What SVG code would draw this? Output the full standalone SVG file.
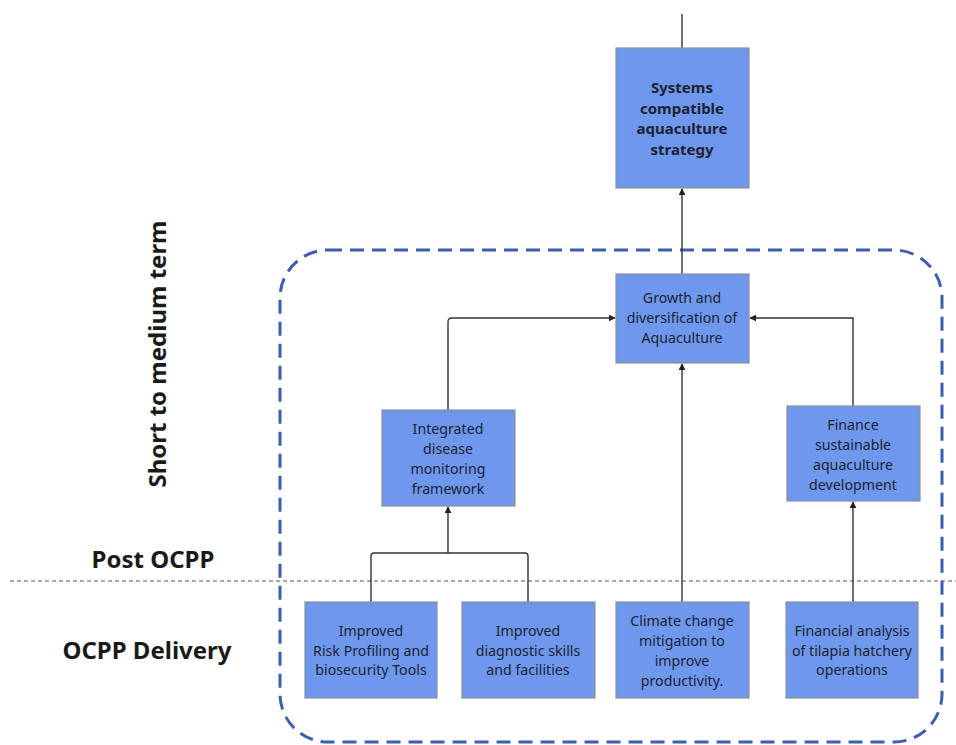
<svg xmlns="http://www.w3.org/2000/svg" width="956" height="745" viewBox="0 0 956 745">
  <defs>
    <marker id="arrow" viewBox="0 0 10 10" refX="9" refY="5" markerWidth="7" markerHeight="7" markerUnits="userSpaceOnUse" orient="auto">
      <path d="M0,0 L10,5 L0,10 z" fill="#222"/>
    </marker>
    <style>
      .box { fill: #6d98ee; stroke: #8c8f99; stroke-width: 1.2; }
      .txt { font-family: "Noto Sans", "Open Sans", sans-serif; font-size: 14.2px; fill: #1e2230; text-anchor: middle; }
      .bold { font-weight: bold; font-size: 15px; }
      .side { font-family: "Noto Sans", "Open Sans", sans-serif; font-size: 24px; font-weight: bold; fill: #1a1a1a; text-anchor: middle; }
      .conn { fill: none; stroke: #333; stroke-width: 1.4; }
    </style>
  </defs>
  <rect width="956" height="745" fill="#ffffff"/>

  <!-- time period boundary -->
  <line x1="10" y1="581" x2="956" y2="581" stroke="#8a8a8a" stroke-width="1.5" stroke-dasharray="4 3"/>

  <!-- short to medium term grouping -->
  <rect x="280" y="250" width="662" height="492" rx="48" ry="48" fill="none" stroke="#3b5eb0" stroke-width="3" stroke-dasharray="14 8"/>

  <!-- side labels -->
  <text class="side" transform="translate(166 354) rotate(-90)">Short to medium term</text>
  <text class="side" x="153" y="568">Post OCPP</text>
  <text class="side" x="147" y="659">OCPP Delivery</text>

  <!-- connectors -->
  <g id="connectors">
    <line class="conn" x1="682" y1="14" x2="682" y2="48"/>
    <line class="conn" x1="682" y1="274" x2="682" y2="189" marker-end="url(#arrow)"/>
    <path class="conn" d="M448,410 V322 Q448,318 452,318 H615" marker-end="url(#arrow)"/>
    <path class="conn" d="M853,406 V318 H750" marker-end="url(#arrow)"/>
    <line class="conn" x1="682" y1="602" x2="682" y2="364" marker-end="url(#arrow)"/>
    <line class="conn" x1="853" y1="602" x2="853" y2="502" marker-end="url(#arrow)"/>
    <path class="conn" d="M371,602 V556 Q371,553 374,553 H525 Q528,553 528,556 V602"/>
    <line class="conn" x1="448" y1="553" x2="448" y2="507" marker-end="url(#arrow)"/>
  </g>

  <g id="strategy">
    <rect class="box" x="616" y="48" width="133" height="140"/>
    <text class="txt bold" x="682" y="93">Systems</text>
    <text class="txt bold" x="682" y="114">compatible</text>
    <text class="txt bold" x="682" y="134">aquaculture</text>
    <text class="txt bold" x="682" y="155">strategy</text>
  </g>

  <g id="growth">
    <rect class="box" x="616" y="274" width="133" height="89"/>
    <text class="txt" x="682" y="303">Growth and</text>
    <text class="txt" x="682" y="323">diversification of</text>
    <text class="txt" x="682" y="343">Aquaculture</text>
  </g>

  <g id="disease-framework">
    <rect class="box" x="382" y="410" width="133" height="96"/>
    <text class="txt" x="448" y="434">Integrated</text>
    <text class="txt" x="448" y="454">disease</text>
    <text class="txt" x="448" y="474">monitoring</text>
    <text class="txt" x="448" y="494">framework</text>
  </g>

  <g id="finance">
    <rect class="box" x="787" y="406" width="133" height="95"/>
    <text class="txt" x="853" y="430">Finance</text>
    <text class="txt" x="853" y="450">sustainable</text>
    <text class="txt" x="853" y="470">aquaculture</text>
    <text class="txt" x="853" y="490">development</text>
  </g>

  <g id="risk-profiling">
    <rect class="box" x="305" y="602" width="132" height="96"/>
    <text class="txt" x="371" y="636">Improved</text>
    <text class="txt" x="371" y="656">Risk Profiling and</text>
    <text class="txt" x="371" y="675">biosecurity Tools</text>
  </g>

  <g id="diagnostics">
    <rect class="box" x="462" y="602" width="133" height="96"/>
    <text class="txt" x="528" y="636">Improved</text>
    <text class="txt" x="528" y="656">diagnostic skills</text>
    <text class="txt" x="528" y="675">and facilities</text>
  </g>

  <g id="climate">
    <rect class="box" x="616" y="602" width="133" height="96"/>
    <text class="txt" x="682" y="626">Climate change</text>
    <text class="txt" x="682" y="646">mitigation to</text>
    <text class="txt" x="682" y="666">improve</text>
    <text class="txt" x="682" y="686">productivity.</text>
  </g>

  <g id="financial-analysis">
    <rect class="box" x="786" y="602" width="132" height="96"/>
    <text class="txt" x="852" y="636">Financial analysis</text>
    <text class="txt" x="852" y="656">of tilapia hatchery</text>
    <text class="txt" x="852" y="675">operations</text>
  </g>
</svg>
